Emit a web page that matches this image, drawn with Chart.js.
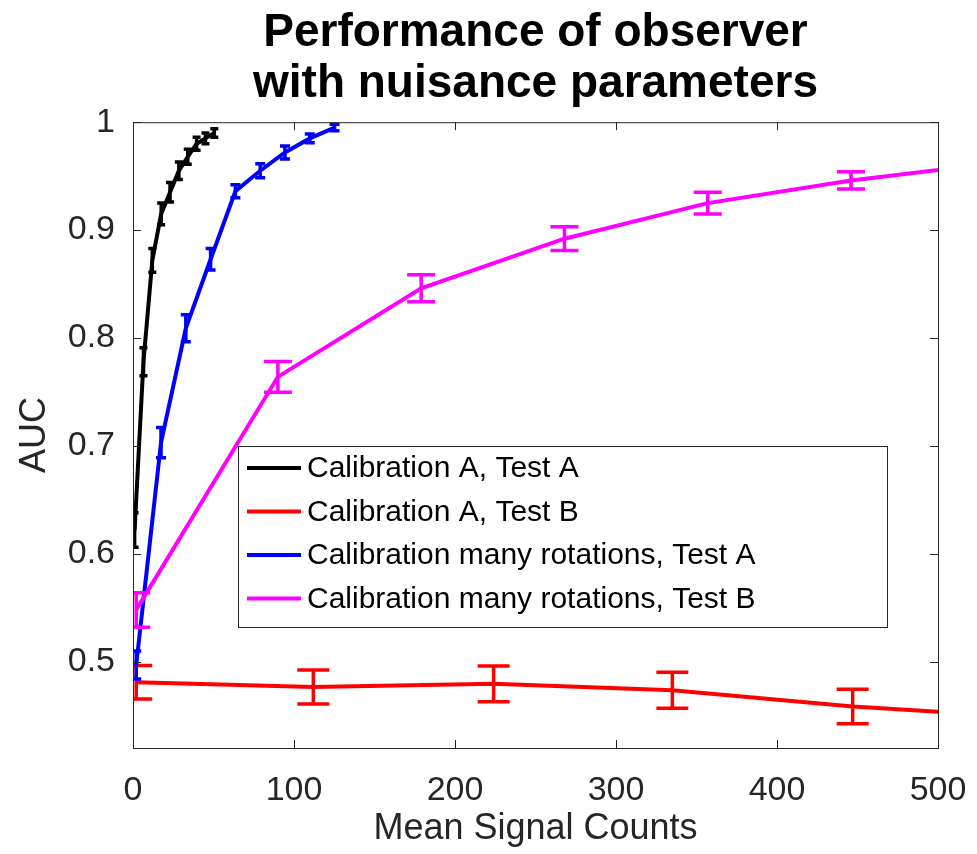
<!DOCTYPE html>
<html>
<head>
<meta charset="utf-8">
<script src="https://cdn.jsdelivr.net/npm/chart.js@4.4.1/dist/chart.umd.min.js"></script>
<style>
  html, body { margin: 0; padding: 0; background: #fff; }
</style>
</head>
<body>
<canvas id="chart" width="977" height="854"></canvas>
<script>
const titleLines = ['Performance of observer', 'with nuisance parameters']
const xTitle = 'Mean Signal Counts'
const yTitle = 'AUC'
const xTicks = [0, 100, 200, 300, 400, 500]
const yTicks = [0.5, 0.6, 0.7, 0.8, 0.9, 1]

const seriesLabels = [
  'Calibration A, Test A',
  'Calibration A, Test B',
  'Calibration many rotations, Test A',
  'Calibration many rotations, Test B'
]

// Calibration A, Test A (black)
const calAtestA_x = [1, 6.5, 12, 17.5, 23, 28.5, 34, 39.5, 45, 50.5]
const calAtestA_y = [0.622, 0.778, 0.872, 0.915, 0.935, 0.955, 0.968, 0.98, 0.985, 0.99]
const calAtestA_err = [0.016, 0.013, 0.011, 0.01, 0.009, 0.008, 0.007, 0.006, 0.005, 0.004]

// Calibration A, Test B (red)
const calAtestB_x = [2, 112, 224, 335, 447, 558]
const calAtestB_y = [0.481, 0.4765, 0.4795, 0.4735, 0.4585, 0.448]
const calAtestB_err = [0.0155, 0.0158, 0.0166, 0.0167, 0.016, 0.016]

// Calibration many rotations, Test A (blue)
const calRotTestA_x = [2, 17.4, 32.8, 48.2, 63.6, 79, 94.4, 109.8, 125.2]
const calRotTestA_y = [0.497, 0.703, 0.809, 0.873, 0.936, 0.955, 0.972, 0.985, 0.995]
const calRotTestA_err = [0.013, 0.014, 0.0125, 0.01, 0.006, 0.0065, 0.006, 0.004, 0.003]

// Calibration many rotations, Test B (magenta)
const calRotTestB_x = [2, 90, 179, 268, 357, 446, 535]
const calRotTestB_y = [0.548, 0.764, 0.846, 0.892, 0.925, 0.946, 0.962]
const calRotTestB_err = [0.016, 0.0143, 0.0125, 0.011, 0.01, 0.008, 0.007]

const FONT = '"Liberation Sans", Arial, Helvetica, sans-serif'
const AXIS_COLOR = '#262626'

function pts(xs, ys) {
  return xs.map((x, i) => ({x: x, y: ys[i]}))
}

function series(label, color, xs, ys, errs, cap, order) {
  return {
    label: label,
    data: pts(xs, ys),
    errors: errs,
    capHalf: cap,
    borderColor: color,
    backgroundColor: color,
    borderWidth: 4,
    pointRadius: 0,
    tension: 0,
    fill: false,
    order: order
  }
}

// vertical error bars, drawn right after each line so the layering stays the same
const errorBars = {
  id: 'errorBars',
  afterDatasetDraw(chart, args) {
    const ds = chart.data.datasets[args.index]
    if (!ds.errors) return
    const ctx = chart.ctx
    const a = chart.chartArea
    const xs = chart.scales.x, ys = chart.scales.y
    ctx.save()
    ctx.beginPath()
    ctx.rect(a.left, a.top, a.right - a.left, a.bottom - a.top)
    ctx.clip()
    ctx.strokeStyle = ds.borderColor
    ctx.lineWidth = 3.5
    ds.data.forEach((p, i) => {
      const e = ds.errors[i]
      const px = xs.getPixelForValue(p.x)
      const lo = ys.getPixelForValue(p.y - e)
      const hi = ys.getPixelForValue(p.y + e)
      const w = ds.capHalf
      ctx.beginPath()
      ctx.moveTo(px, lo); ctx.lineTo(px, hi)
      ctx.moveTo(px - w, lo); ctx.lineTo(px + w, lo)
      ctx.moveTo(px - w, hi); ctx.lineTo(px + w, hi)
      ctx.stroke()
    })
    ctx.restore()
  }
}

// matlab style box with inward ticks on all four sides
const axesBox = {
  id: 'axesBox',
  afterDatasetsDraw(chart) {
    const ctx = chart.ctx
    const a = chart.chartArea
    const tl = 8
    ctx.save()
    ctx.strokeStyle = AXIS_COLOR
    ctx.lineWidth = 1
    ctx.strokeRect(a.left + 0.5, a.top + 0.5, a.right - a.left, a.bottom - a.top)
    ctx.beginPath()
    chart.scales.x.ticks.forEach(t => {
      const px = Math.round(chart.scales.x.getPixelForValue(t.value)) + 0.5
      ctx.moveTo(px, a.bottom); ctx.lineTo(px, a.bottom - tl)
      ctx.moveTo(px, a.top); ctx.lineTo(px, a.top + tl)
    })
    chart.scales.y.ticks.forEach(t => {
      const py = Math.round(chart.scales.y.getPixelForValue(t.value)) + 0.5
      ctx.moveTo(a.left, py); ctx.lineTo(a.left + tl, py)
      ctx.moveTo(a.right, py); ctx.lineTo(a.right - tl, py)
    })
    ctx.stroke()
    ctx.restore()
  }
}

// legend box sitting inside the axes
const insideLegend = {
  id: 'insideLegend',
  afterDraw(chart, args, opts) {
    const ctx = chart.ctx
    ctx.save()
    ctx.fillStyle = '#fff'
    ctx.fillRect(opts.left, opts.top, opts.right - opts.left, opts.bottom - opts.top)
    ctx.strokeStyle = AXIS_COLOR
    ctx.lineWidth = 1
    ctx.strokeRect(opts.left + 0.5, opts.top + 0.5, opts.right - opts.left, opts.bottom - opts.top)
    ctx.font = opts.fontSize + 'px ' + FONT
    ctx.textBaseline = 'middle'
    ctx.textAlign = 'left'
    chart.data.datasets.forEach((ds, i) => {
      const y = opts.top + opts.firstRow + i * opts.rowGap
      ctx.strokeStyle = ds.borderColor
      ctx.lineWidth = 4
      ctx.beginPath()
      ctx.moveTo(opts.left + 9, y)
      ctx.lineTo(opts.left + 63, y)
      ctx.stroke()
      ctx.fillStyle = '#000'
      ctx.fillText(ds.label, opts.left + 69, y + 1)
    })
    ctx.restore()
  }
}

const ctx = document.getElementById('chart').getContext('2d')
const chart = new Chart(ctx, {
  type: 'line',
  data: {
    datasets: [
      series(seriesLabels[0], '#000000', calAtestA_x, calAtestA_y, calAtestA_err, 4, 4),
      series(seriesLabels[1], '#ff0000', calAtestB_x, calAtestB_y, calAtestB_err, 16, 3),
      series(seriesLabels[2], '#0000ff', calRotTestA_x, calRotTestA_y, calRotTestA_err, 5, 2),
      series(seriesLabels[3], '#ff00ff', calRotTestB_x, calRotTestB_y, calRotTestB_err, 14, 1)
    ]
  },
  options: {
    responsive: false,
    animation: false,
    layout: { padding: { left: 0, right: 39, top: 0, bottom: 0 } },
    plugins: {
      legend: { display: false },
      tooltip: { enabled: false },
      title: {
        display: true,
        text: titleLines,
        fullSize: false,
        color: '#000',
        font: { family: FONT, size: 46, weight: 'bold', lineHeight: 1.1 },
        padding: { top: 8, bottom: 13 }
      },
      insideLegend: {
        left: 238, top: 446, right: 887, bottom: 627,
        firstRow: 22, rowGap: 43.5, fontSize: 30
      }
    },
    scales: {
      x: {
        type: 'linear',
        min: 0,
        max: 500,
        afterBuildTicks: s => { s.ticks = xTicks.map(v => ({value: v})) },
        afterFit: s => { s.height = 106; s.paddingLeft = 0; s.paddingRight = 0 },
        grid: { display: false, drawTicks: false },
        border: { display: false },
        ticks: {
          color: AXIS_COLOR,
          padding: 22,
          maxRotation: 0,
          font: { family: FONT, size: 34 }
        },
        title: {
          display: true,
          text: xTitle,
          color: AXIS_COLOR,
          font: { family: FONT, size: 36 },
          padding: { top: 0, bottom: 3 }
        }
      },
      y: {
        type: 'linear',
        min: 0.42,
        max: 1,
        afterBuildTicks: s => { s.ticks = yTicks.map(v => ({value: v})) },
        afterFit: s => { s.width = 133 },
        grid: { display: false, drawTicks: false },
        border: { display: false },
        ticks: {
          color: AXIS_COLOR,
          padding: 18,
          font: { family: FONT, size: 34 },
          callback: v => v === 1 ? '1' : v.toFixed(1)
        },
        title: {
          display: true,
          text: yTitle,
          color: AXIS_COLOR,
          font: { family: FONT, size: 36 },
          padding: { top: 13, bottom: 0 }
        }
      }
    }
  },
  plugins: [errorBars, axesBox, insideLegend]
})
</script>
</body>
</html>
